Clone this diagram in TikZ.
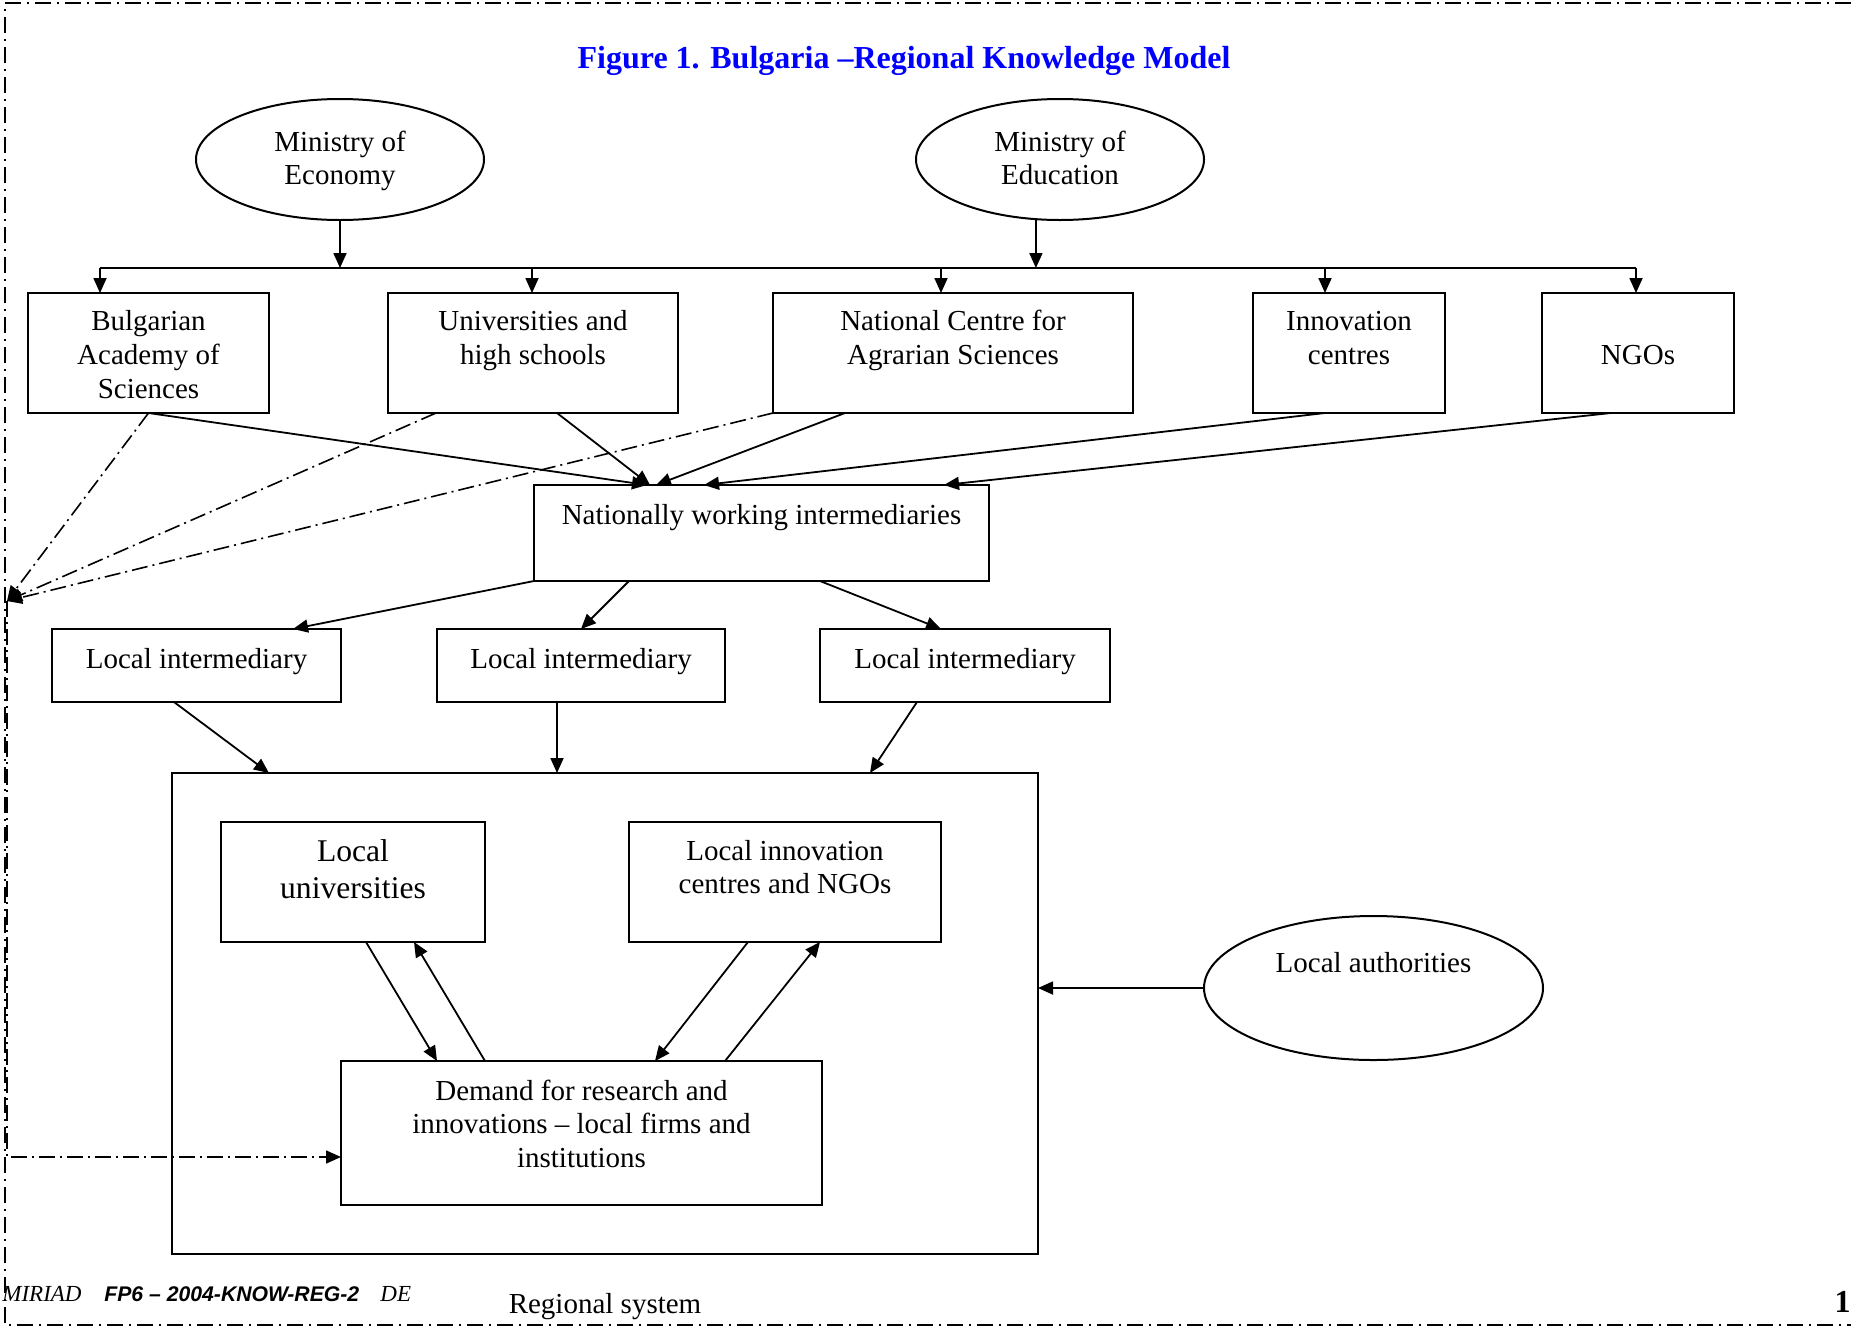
\documentclass[tikz,border=0pt]{standalone}
\usepackage{fontspec}
\setmainfont{Liberation Serif}
\newfontfamily\footsans{Liberation Sans}
\usetikzlibrary{shapes.geometric,arrows.meta,calc}
\definecolor{titleblue}{RGB}{0,0,255}
\newcommand{\tbx}[4]{\parbox[c][#1][t]{#2}{\centering\rule{0pt}{#3}#4}}
\newcommand{\ovtext}[2]{\raisebox{#1}[0pt][0pt]{\begin{tabular}[t]{@{}c@{}}#2\end{tabular}}}
\begin{document}
\begin{tikzpicture}[x=0.5pt,y=-0.5pt,
  font=\fontsize{14.5}{17}\selectfont,
  box/.style={draw, line width=1pt, rectangle, inner sep=0pt, outer sep=0pt},
  oval/.style={draw, line width=1pt, ellipse, inner sep=0pt, outer sep=0pt, align=center},
  tip/.style={-{Triangle[length=7.5pt,width=6.5pt]}},
  arr/.style={line width=0.9pt, tip},
  plain/.style={line width=1pt},
  dd/.style={line width=0.8pt, dash pattern=on 8pt off 2.5pt on 1pt off 2.5pt},
  frame/.style={line width=0.8pt, dash pattern=on 8pt off 3pt on 1pt off 3pt}]
\useasboundingbox (0,0) rectangle (1851,1328);

% page frame
\draw[frame] (1851,3) -- (5,3) -- (5,1325) -- (1851,1325);

% title
\node[anchor=base, inner sep=0pt, text=titleblue, font=\bfseries\fontsize{16}{19}\selectfont] (title) at (904,68) {Figure 1. Bulgaria –Regional Knowledge Model};

% ministries
\node[oval, minimum width=144pt, minimum height=60.5pt, font=\fontsize{14.5}{16.5}\selectfont] (econ) at (340,159.5) {\ovtext{4pt}{Ministry of\\Economy}};
\node[oval, minimum width=144pt, minimum height=60.5pt, font=\fontsize{14.5}{16.5}\selectfont] (edu) at (1060,159.5) {\ovtext{4pt}{Ministry of\\Education}};

% first row boxes
\node[box] (bas) at (148.5,353) {\tbx{60pt}{120.5pt}{18.5pt}{Bulgarian\\Academy of\\Sciences}};
\node[box] (uni) at (533,353) {\tbx{60pt}{145pt}{18.5pt}{Universities and\\high schools}};
\node[box] (ncas) at (953,353) {\tbx{60pt}{180pt}{18.5pt}{National Centre for\\Agrarian Sciences}};
\node[box] (inno) at (1349,353) {\tbx{60pt}{96pt}{18.5pt}{Innovation\\centres}};
\node[box] (ngo) at (1638,353) {\tbx{60pt}{96pt}{35.5pt}{NGOs}};

% bus
\coordinate (b1) at (100,268);
\coordinate (b2) at (532,268);
\coordinate (b3) at (941,268);
\coordinate (b4) at (1325,268);
\coordinate (b5) at (1636,268);
\draw[plain] (b1) -- (b5);
\draw[arr] (econ.south) -- (econ.south |- b1);
\draw[arr] (edu.248) -- (edu.248 |- b1);
\draw[arr] (b1) -- (b1 |- bas.north);
\draw[arr] (b2) -- (b2 |- uni.north);
\draw[arr] (b3) -- (b3 |- ncas.north);
\draw[arr] (b4) -- (b4 |- inno.north);
\draw[arr] (b5) -- (b5 |- ngo.north);

% nationally working intermediaries
\node[box] (nwi) at (761.5,533) {\tbx{48pt}{227.5pt}{19.5pt}{Nationally working intermediaries}};
\draw[arr] (bas.south) -- ($(nwi.north west)+(113,0)$);
\draw[arr] ($(uni.south west)+(169,0)$) -- ($(nwi.north west)+(116,0)$);
\draw[arr] ($(ncas.south west)+(72,0)$) -- ($(nwi.north west)+(122,0)$);
\draw[arr] ($(inno.south west)+(72,0)$) -- ($(nwi.north west)+(170,0)$);
\draw[arr] ($(ngo.south west)+(69,0)$) -- ($(nwi.north west)+(410,0)$);

% dash-dot links to the demand box
\coordinate (conv) at (7,601);
\draw[dd, tip] (bas.south) -- (conv);
\draw[dd, tip] ($(uni.south west)+(48,0)$) -- (conv);
\draw[dd, tip] (ncas.south west) -- (conv);

% local intermediaries
\node[box] (li1) at (196.5,665.5) {\tbx{36.5pt}{144.5pt}{19.5pt}{Local intermediary}};
\node[box] (li2) at (581,665.5) {\tbx{36.5pt}{144pt}{19.5pt}{Local intermediary}};
\node[box] (li3) at (965,665.5) {\tbx{36.5pt}{145pt}{19.5pt}{Local intermediary}};
\draw[arr] (nwi.south west) -- ($(li1.north west)+(241,0)$);
\draw[arr] ($(nwi.south west)+(95,0)$) -- (li2.north);
\draw[arr] ($(nwi.south west)+(286,0)$) -- ($(li3.north west)+(121,0)$);

% regional system
\node[box, minimum width=433pt, minimum height=240.5pt] (reg) at (605,1013.5) {};
\node[anchor=base, inner sep=0pt] (regtxt) at (605,1313) {Regional system};
\draw[arr] ($(li1.south west)+(122,0)$) -- ($(reg.north west)+(97,0)$);
\draw[arr] ($(li2.south west)+(120,0)$) -- ($(reg.north west)+(385,0)$);
\draw[arr] ($(li3.south west)+(97,0)$) -- ($(reg.north west)+(698,0)$);

\node[box] (lu) at (353,882) {\tbx{60pt}{132pt}{19.5pt}{\fontsize{15.8}{18.5}\selectfont Local\\universities}};
\node[box] (lic) at (785,882) {\tbx{60pt}{156pt}{19pt}{\fontsize{14.5}{16.5}\selectfont Local innovation\\centres and NGOs}};
\node[box] (dem) at (581.5,1133) {\tbx{72pt}{240.5pt}{19.5pt}{\fontsize{14.5}{16.75}\selectfont Demand for research and\\innovations – local firms and\\institutions}};

\draw[arr] ($(lu.south west)+(145,0)$) -- ($(dem.north west)+(96,0)$);
\draw[arr] ($(dem.north west)+(144,0)$) -- ($(lu.south west)+(193,0)$);
\draw[arr] ($(lic.south west)+(119,0)$) -- ($(dem.north west)+(314,0)$);
\draw[arr] ($(dem.north west)+(384,0)$) -- ($(lic.south west)+(191,0)$);

\draw[dd, tip] (conv) |- ($(dem.west)+(0,24)$);

% local authorities
\node[oval, minimum width=169.5pt, minimum height=72pt] (auth) at (1373.5,988) {\raisebox{8pt}[0pt][0pt]{Local authorities}};
\draw[arr] (auth.west) -- (auth.west -| reg.east);

% footer
\node[anchor=base west, inner sep=0pt, font=\itshape\fontsize{11.5}{13}\selectfont] (f1) at (2,1301) {MIRIAD};
\node[anchor=base west, inner sep=0pt, font=\footsans\bfseries\itshape\fontsize{10.6}{13}\selectfont] (f2) at (104,1301) {FP6 – 2004-KNOW-REG-2};
\node[anchor=base west, inner sep=0pt, font=\itshape\fontsize{11.5}{13}\selectfont] (f3) at (380,1301) {DE};
\node[anchor=base east, inner sep=0pt, font=\bfseries\fontsize{16}{19}\selectfont] (pg) at (1851,1312) {1};
\end{tikzpicture}
\end{document}
